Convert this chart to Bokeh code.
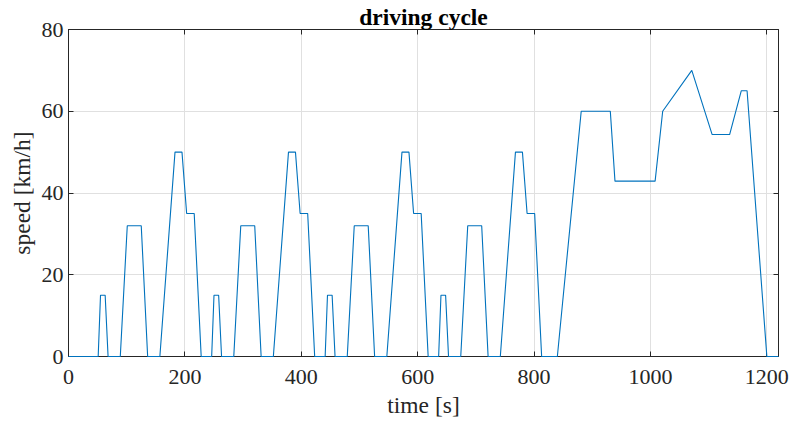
from bokeh.plotting import figure
from bokeh.models import Range1d, LinearAxis, FixedTicker
from bokeh.embed import file_html
from bokeh.resources import INLINE

# breakpoints of the driving cycle (time [s], speed [km/h])
time_s = [0, 51, 55, 63, 68, 89, 101, 125, 136, 157, 183, 195, 203, 216, 228,
          246, 250, 258, 263, 284, 296, 320, 331, 352, 378, 390, 398, 411, 423,
          441, 445, 453, 458, 479, 491, 515, 526, 547, 573, 585, 593, 606, 618,
          636, 640, 648, 653, 674, 686, 710, 721, 742, 768, 780, 788, 801, 813,
          840, 881, 931, 939, 1008, 1021, 1071, 1106, 1136, 1156, 1166, 1200, 1220]
speed_kmh = [0, 0, 15, 15, 0, 0, 32, 32, 0, 0, 50, 50, 35, 35, 0,
             0, 15, 15, 0, 0, 32, 32, 0, 0, 50, 50, 35, 35, 0,
             0, 15, 15, 0, 0, 32, 32, 0, 0, 50, 50, 35, 35, 0,
             0, 15, 15, 0, 0, 32, 32, 0, 0, 50, 50, 35, 35, 0,
             0, 60, 60, 42.9, 42.9, 60, 70, 54.3, 54.3, 65, 65, 0, 0]
x_ticks = [0, 200, 400, 600, 800, 1000, 1200]
y_ticks = [0, 20, 40, 60, 80]

FONT = "Liberation Serif"
DARK = "#262626"
FS = "22px"
LFS = "23.5px"

p = figure(width=791, height=424, output_backend="svg", toolbar_location=None,
           x_range=Range1d(0, 1220), y_range=Range1d(0, 80),
           min_border_left=68, min_border_right=13, min_border_top=29, min_border_bottom=68,
           x_axis_label="time [s]", y_axis_label="speed [km/h]",
           title="driving cycle")
p.background_fill_color = "white"
p.border_fill_color = "white"
p.outline_line_color = DARK
p.outline_line_width = 1

p.title.text_font = FONT
p.title.text_font_size = "23.5px"
p.title.text_font_style = "bold"
p.title.align = "center"
p.title.text_color = "black"
p.title.standoff = 0
p.title.offset = 0

for ax in p.xaxis + p.yaxis:
    ax.axis_label_text_font = FONT
    ax.axis_label_text_font_size = LFS
    ax.axis_label_text_font_style = "normal"
    ax.axis_label_text_color = DARK
    ax.major_label_text_font = FONT
    ax.major_label_text_font_size = FS
    ax.major_label_text_color = DARK
    ax.major_tick_in = 5
    ax.major_tick_out = 0
    ax.minor_tick_in = 0
    ax.minor_tick_out = 0
    ax.axis_line_color = DARK
    ax.major_tick_line_color = DARK
p.xaxis.ticker = FixedTicker(ticks=x_ticks)
p.yaxis.ticker = FixedTicker(ticks=y_ticks)
p.xaxis.axis_label_standoff = 5
p.yaxis.axis_label_standoff = 4
p.xaxis.major_label_standoff = 13
p.yaxis.major_label_standoff = 5

for loc, tk in (("above", x_ticks), ("right", y_ticks)):
    ax = LinearAxis(ticker=FixedTicker(ticks=tk))
    ax.major_label_overrides = {t: "" for t in tk}
    ax.major_label_text_font_size = "1px"
    ax.major_label_standoff = 0
    ax.major_tick_in = 5
    ax.major_tick_out = 0
    ax.minor_tick_in = 0
    ax.minor_tick_out = 0
    ax.axis_line_color = DARK
    ax.major_tick_line_color = DARK
    p.add_layout(ax, loc)

p.xgrid.ticker = FixedTicker(ticks=x_ticks)
p.ygrid.ticker = FixedTicker(ticks=y_ticks)
p.grid.grid_line_color = "#e0e0e0"
p.grid.grid_line_width = 1

p.line(time_s, speed_kmh, line_color="#0072BD", line_width=1.1, level="overlay")

open("out.html", "w").write(file_html(p, INLINE))
